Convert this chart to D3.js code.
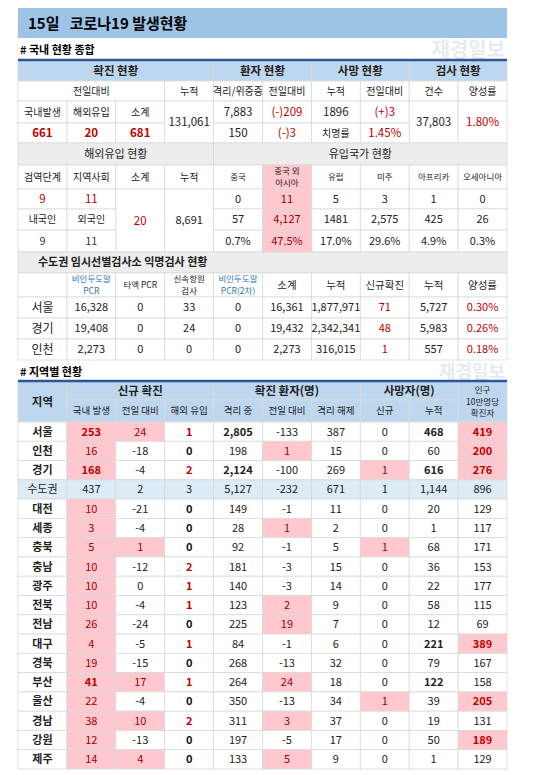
<!DOCTYPE html>
<html><head><meta charset="utf-8">
<script src="https://cdn.jsdelivr.net/npm/d3@7"></script>
<style>body{margin:0;background:#fff}svg{font-family:"Noto Sans CJK KR","Noto Sans",sans-serif}</style>
</head><body><svg id="c" width="550" height="775"></svg>
<script>
// summary numbers
var domesticNew = "661", overseasNew = "20", totalNew = "681", cumulative = "131,061";
var isolating = ["7,883", "150"], isoChange = ["(-)209", "(-)3"];
var deaths = "1896", deathChange = "(+)3", fatality = "1.45%";
var tests = "37,803", positiveRate = "1.80%";

// overseas inflow
var inflowStage = ["9", "11"], inflowNation = ["9", "11"], inflowSum = "20", inflowCum = "8,691";
var countries = ["중국", "중국 외\n아시아", "유럽", "미주", "아프리카", "오세아니아"];
var countryNew = ["0", "11", "5", "3", "1", "0"];
var countryCum = ["57", "4,127", "1481", "2,575", "425", "26"];
var countryPct = ["0.7%", "47.5%", "17.0%", "29.6%", "4.9%", "0.3%"];

// anonymous testing
var testCities = ["서울", "경기", "인천"];
var testCols = ["비인두도말\nPCR", "타액 PCR", "신속항원\n검사", "비인두도말\nPCR(2차)", "소계", "누적", "신규확진", "누적", "양성률"];
var testRows = [
  ["16,328", "0", "33", "0", "16,361", "1,877,971", "71", "5,727", "0.30%"],
  ["19,408", "0", "24", "0", "19,432", "2,342,341", "48", "5,983", "0.26%"],
  ["2,273", "0", "0", "0", "2,273", "316,015", "1", "557", "0.18%"]
];

// regional table
var regions = ["서울", "인천", "경기", "수도권", "대전", "세종", "충북", "충남", "광주", "전북", "전남", "대구", "경북", "부산", "울산", "경남", "강원", "제주"];
var localNew = [253, 16, 168, 437, 10, 3, 5, 10, 10, 10, 26, 4, 19, 41, 22, 38, 12, 14];
var localChange = [24, -18, -4, 2, -21, -4, 1, -12, 0, -4, -24, -5, -15, 17, -4, 10, -13, 4];
var importNew = [1, 0, 2, 3, 0, 0, 0, 2, 1, 1, 0, 1, 0, 1, 0, 2, 0, 0];
var inIsolation = [2805, 198, 2124, 5127, 149, 28, 92, 181, 140, 123, 225, 84, 268, 264, 350, 311, 197, 133];
var isolationChange = [-133, 1, -100, -232, -1, 1, -1, -3, -3, 2, 19, -1, -13, 24, -13, 3, -5, 5];
var released = [387, 15, 269, 671, 11, 2, 5, 15, 14, 9, 7, 6, 32, 18, 34, 37, 17, 9];
var deathNew = [0, 0, 1, 1, 0, 0, 1, 0, 0, 0, 0, 0, 0, 0, 1, 0, 0, 0];
var deathTotal = [468, 60, 616, 1144, 20, 1, 68, 36, 22, 58, 12, 221, 79, 122, 39, 19, 50, 1];
var per100k = [419, 200, 276, 896, 129, 117, 171, 153, 177, 115, 69, 389, 167, 158, 205, 131, 189, 129];

var svg = d3.select("#c");
var fmt = d3.format(",");
var x = d3.scaleLinear().domain([0, 10]).range([18, 507]);
var blue = "#bdd7ee", gray = "#ededed", pink = "#ffc7ce", red = "#c00000", pred = "#9c0006", navy = "#203864";

// title
svg.append("rect").attr("x", x(0)).attr("y", 8).attr("width", x(10) - x(0)).attr("height", 30).attr("fill", "#9dc3e6");
svg.append("text").attr("x", 28).attr("y", 29).attr("font-size", 15).attr("font-weight", "bold")
  .attr("xml:space", "preserve").style("white-space", "pre").text("15일   코로나19 발생현황");
// watermarks
[[57, 20], [378, 18]].forEach(function (w) {
  svg.append("text").attr("x", 505).attr("y", w[0]).attr("text-anchor", "end").attr("font-size", w[1])
    .attr("font-weight", "bold").attr("fill", "#e4ebf2").text("재경일보");
});
svg.append("text").attr("x", 20).attr("y", 54).attr("font-size", 11).attr("font-weight", "bold").text("# 국내 현황 종합");
svg.append("text").attr("x", 20).attr("y", 376).attr("font-size", 11).attr("font-weight", "bold").text("# 지역별 현황");

function draw(cells, ys, topLine) {
  var g = svg.append("g");
  var c = g.selectAll("g").data(cells).enter().append("g");
  c.append("rect")
    .attr("x", function (d) { return x(d[1]); })
    .attr("y", function (d) { return ys[d[0]]; })
    .attr("width", function (d) { return x(d[1] + (d[3] || 1)) - x(d[1]); })
    .attr("height", function (d) { return ys[d[0] + (d[2] || 1)] - ys[d[0]]; })
    .attr("fill", function (d) { return (d[5] && d[5].bg) || "#fff"; })
    .attr("stroke", "#d9d9d9").attr("stroke-width", 0.8);
  c.each(function (d) {
    var s = d[5] || {};
    var lines = String(d[4]).split("\n");
    var fs = s.size || 11;
    var cx = s.left ? x(d[1]) + 20 : (x(d[1]) + x(d[1] + (d[3] || 1))) / 2;
    var cy = (ys[d[0]] + ys[d[0] + (d[2] || 1)]) / 2;
    var lh = s.lh || fs + 3;
    lines.forEach(function (t, i) {
      d3.select(this).append("text")
        .attr("x", cx).attr("y", cy + (i - (lines.length - 1) / 2) * lh + fs * 0.36)
        .attr("text-anchor", s.left ? "start" : "middle")
        .attr("font-size", fs).attr("font-weight", s.bold ? "bold" : "normal")
        .attr("fill", s.color || "#222").text(t);
    }, this);
  });
  if (topLine) g.append("line").attr("x1", x(0)).attr("x2", x(10)).attr("y1", ys[0]).attr("y2", ys[0])
    .attr("stroke", "#2f5597").attr("stroke-width", 2.5);
  return g;
}

var H = { bg: blue, bold: true, size: 11.5 }, S = { size: 10 }, R = { color: red, bold: true, size: 11.5 };
var RN = { color: red, size: 11.5 };

// section 1
draw([
  [0, 0, 1, 4, "확진 현황", H], [0, 4, 1, 2, "환자 현황", H], [0, 6, 1, 2, "사망 현황", H], [0, 8, 1, 2, "검사 현황", H],
  [1, 0, 1, 3, "전일대비", S], [1, 3, 1, 1, "누적", S], [1, 4, 1, 1, "격리/위중증", S], [1, 5, 1, 1, "전일대비", S],
  [1, 6, 1, 1, "누적", S], [1, 7, 1, 1, "전일대비", S], [1, 8, 1, 1, "건수", S], [1, 9, 1, 1, "양성률", S],
  [2, 0, 1, 1, "국내발생", S], [2, 1, 1, 1, "해외유입", S], [2, 2, 1, 1, "소계", S], [2, 3, 2, 1, cumulative, { size: 11.5 }],
  [2, 4, 1, 1, isolating[0], { size: 11.5 }], [2, 5, 1, 1, isoChange[0], RN], [2, 6, 1, 1, deaths, { size: 11.5 }],
  [2, 7, 1, 1, deathChange, RN], [2, 8, 2, 1, tests, { size: 11.5 }], [2, 9, 2, 1, positiveRate, RN],
  [3, 0, 1, 1, domesticNew, R], [3, 1, 1, 1, overseasNew, R], [3, 2, 1, 1, totalNew, R],
  [3, 4, 1, 1, isolating[1], { size: 11.5 }], [3, 5, 1, 1, isoChange[1], RN], [3, 6, 1, 1, "치명률", S], [3, 7, 1, 1, fatality, RN]
], [60, 81, 101, 123, 143], true);

// section 2
var sec2 = [
  [0, 0, 1, 4, "해외유입 현황", { bg: gray, size: 11 }], [0, 4, 1, 6, "유입국가 현황", { bg: gray, size: 11 }],
  [1, 0, 1, 1, "검역단계", S], [1, 1, 1, 1, "지역사회", S], [1, 2, 1, 1, "소계", S], [1, 3, 1, 1, "누적", S],
  [2, 0, 1, 1, inflowStage[0], RN], [2, 1, 1, 1, inflowStage[1], RN], [2, 2, 3, 1, inflowSum, RN], [2, 3, 3, 1, inflowCum, { size: 11 }],
  [3, 0, 1, 1, "내국인", S], [3, 1, 1, 1, "외국인", S],
  [4, 0, 1, 1, inflowNation[0], { color: navy }], [4, 1, 1, 1, inflowNation[1], { color: navy }]
];
countries.forEach(function (n, i) {
  var hl = i === 1;
  sec2.push([1, 4 + i, 1, 1, n, { size: 8.5, bg: hl ? pink : null }]);
  sec2.push([2, 4 + i, 1, 1, countryNew[i], hl ? { bg: pink, color: pred } : {}]);
  sec2.push([3, 4 + i, 1, 1, countryCum[i], hl ? { bg: pink, color: pred } : {}]);
  sec2.push([4, 4 + i, 1, 1, countryPct[i], hl ? { bg: pink, color: pred } : {}]);
});
draw(sec2, [143, 165, 189, 209, 230, 252], false);

// section 3
var sec3 = [[0, 0, 1, 10, "수도권 임시선별검사소 익명검사 현황", { bg: gray, bold: true, left: true }], [1, 0, 1, 1, ""]];
testCols.forEach(function (n, i) {
  var blueTxt = i === 0 || i === 3;
  sec3.push([1, 1 + i, 1, 1, n, { size: i < 4 ? 8.5 : 10.5, color: blueTxt ? "#2e75b6" : "#222" }]);
});
testCities.forEach(function (city, r) {
  sec3.push([2 + r, 0, 1, 1, city, { size: 12 }]);
  testRows[r].forEach(function (v, i) {
    sec3.push([2 + r, 1 + i, 1, 1, v, i === 6 || i === 8 ? { color: red } : { size: 11 }]);
  });
});
draw(sec3, [252, 273, 297, 318, 339, 360], false);

// regional table
var ys4 = [381, 400, 422];
var rowH = (769 - 422) / regions.length;
regions.forEach(function (r, i) { ys4.push(422 + rowH * (i + 1)); });
var sec4 = [
  [0, 0, 2, 1, "지역", H], [0, 1, 1, 3, "신규 확진", H], [0, 4, 1, 3, "확진 환자(명)", H], [0, 7, 1, 2, "사망자(명)", H],
  [0, 9, 2, 1, "인구\n10만명당\n확진자", { bg: blue, size: 8.5, lh: 11.5 }]
];
["국내 발생", "전일 대비", "해외 유입", "격리 중", "전일 대비", "격리 해제", "신규", "누적"].forEach(function (n, i) {
  sec4.push([1, 1 + i, 1, 1, n, { bg: blue, size: 9.5 }]);
});
regions.forEach(function (r, i) {
  var row = 2 + i, metro = r === "수도권";
  var base = metro ? { bg: "#ddebf7" } : {};
  function st(o) { return Object.assign({}, base, o); }
  sec4.push([row, 0, 1, 1, r, metro ? st({}) : { bold: true }]);
  sec4.push([row, 1, 1, 1, localNew[i], metro ? st({}) : { bg: pink, color: localNew[i] > 40 ? red : pred, bold: localNew[i] > 40 }]);
  sec4.push([row, 2, 1, 1, localChange[i], !metro && localChange[i] > 0 ? { bg: pink, color: pred } : st({})]);
  sec4.push([row, 3, 1, 1, importNew[i], metro ? st({}) : { bold: true, color: importNew[i] > 0 ? red : "#111" }]);
  sec4.push([row, 4, 1, 1, fmt(inIsolation[i]), st({ bold: !metro && inIsolation[i] > 1000 })]);
  sec4.push([row, 5, 1, 1, isolationChange[i], !metro && isolationChange[i] > 0 ? { bg: pink, color: pred } : st({})]);
  sec4.push([row, 6, 1, 1, released[i], st({})]);
  sec4.push([row, 7, 1, 1, deathNew[i], !metro && deathNew[i] > 0 ? { bg: pink, color: pred } : st({})]);
  sec4.push([row, 8, 1, 1, fmt(deathTotal[i]), st({ bold: !metro && deathTotal[i] > 100 })]);
  sec4.push([row, 9, 1, 1, per100k[i], !metro && per100k[i] > 185 ? { bg: pink, color: red, bold: true } : st({})]);
});
draw(sec4, ys4, true);
</script></body></html>
